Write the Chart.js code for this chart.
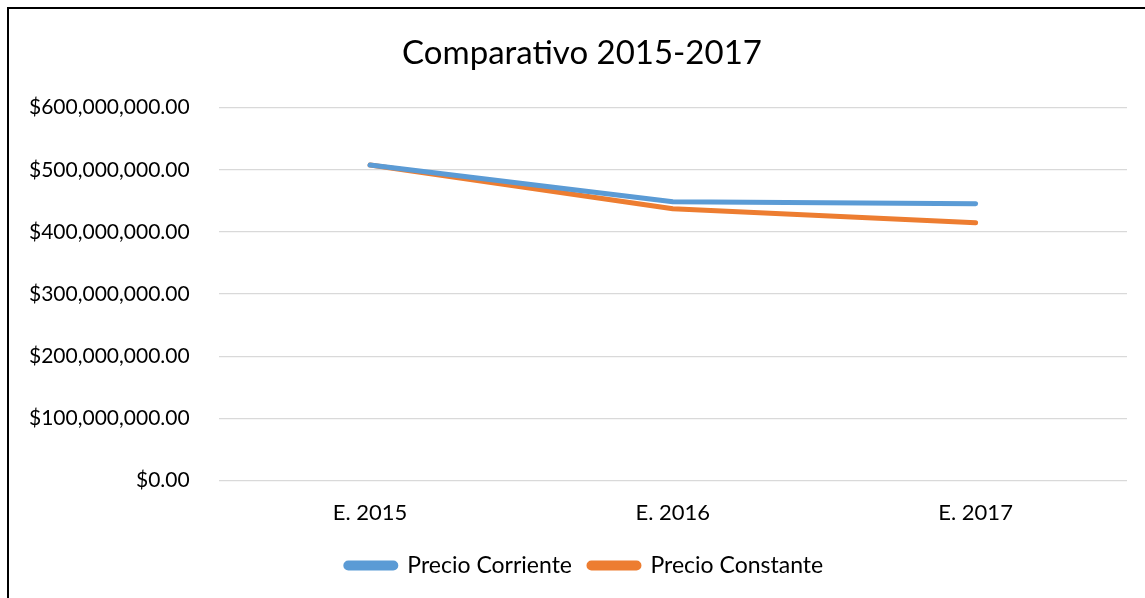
<!DOCTYPE html>
<html>
<head>
<meta charset="utf-8">
<script src="https://cdn.jsdelivr.net/npm/chart.js@4"></script>
<style>
  html, body { margin: 0; padding: 0; background: #fff; overflow: hidden; }
  #frame { position: absolute; left: 7px; top: 7px; width: 1200px; height: 700px;
           border-left: 2px solid #000; border-top: 2px solid #000; }
  #wrap { position: absolute; left: 0; top: 0; width: 1145px; height: 598px; }
</style>
</head>
<body>
<div id="frame"></div>
<div id="wrap"><canvas id="myChart"></canvas></div>
<script>
var categories = ['E. 2015', 'E. 2016', 'E. 2017'];
var precioCorriente = [507600000, 448600000, 445400000];
var precioConstante = [507600000, 437300000, 414600000];
var yTicks = [0, 100000000, 200000000, 300000000, 400000000, 500000000, 600000000];

var font = "Lato, 'Open Sans', sans-serif";

function money(v) {
    return '$' + v.toLocaleString('en-US', { minimumFractionDigits: 2, maximumFractionDigits: 2 });
}

// title and legend in the original sit a bit right of the canvas centre
var shiftBlocks = {
    id: 'shiftBlocks',
    afterLayout: function (chart) {
        if (chart.titleBlock) chart.titleBlock.left += 37;
        if (chart.legend) chart.legend.left += 42;
    }
};

var ctx = document.getElementById('myChart').getContext('2d');
var myChart = new Chart(ctx, {
    type: 'line',
    data: {
        labels: categories,
        datasets: [{
            label: 'Precio Corriente',
            data: precioCorriente,
            borderColor: '#5B9BD5',
            backgroundColor: '#5B9BD5',
            borderWidth: 5,
            borderCapStyle: 'round',
            borderJoinStyle: 'round',
            pointRadius: 0,
            tension: 0
        }, {
            label: 'Precio Constante',
            data: precioConstante,
            borderColor: '#ED7D31',
            backgroundColor: '#ED7D31',
            borderWidth: 5,
            borderCapStyle: 'round',
            borderJoinStyle: 'round',
            pointRadius: 0,
            tension: 0
        }]
    },
    plugins: [shiftBlocks],
    options: {
        responsive: true,
        maintainAspectRatio: false,
        animation: false,
        layout: {
            padding: { left: 0, right: 18, top: 30, bottom: 11 }
        },
        plugins: {
            title: {
                display: true,
                text: 'Comparativo 2015-2017',
                color: '#000',
                font: { family: font, size: 33, weight: 'normal' },
                padding: { top: 4, bottom: 34 }
            },
            legend: {
                position: 'bottom',
                labels: {
                    color: '#000',
                    font: { family: font, size: 23 },
                    boxWidth: 50,
                    boxHeight: 5,
                    useBorderRadius: true,
                    borderRadius: 2.5,
                    padding: 17
                }
            },
            tooltip: { enabled: false }
        },
        scales: {
            x: {
                offset: true,
                grid: { display: false },
                border: { display: false },
                ticks: { color: '#000', font: { family: font, size: 22 }, padding: 11 }
            },
            y: {
                min: 0,
                max: 600000000,
                afterBuildTicks: function (axis) {
                    axis.ticks = yTicks.map(function (v) { return { value: v }; });
                },
                grid: { color: '#d9d9d9', lineWidth: 1.3, drawTicks: false },
                border: { display: false },
                ticks: {
                    color: '#000',
                    font: { family: font, size: 21 },
                    padding: 29,
                    callback: function (v) { return money(v); }
                }
            }
        }
    }
});
</script>
</body>
</html>
